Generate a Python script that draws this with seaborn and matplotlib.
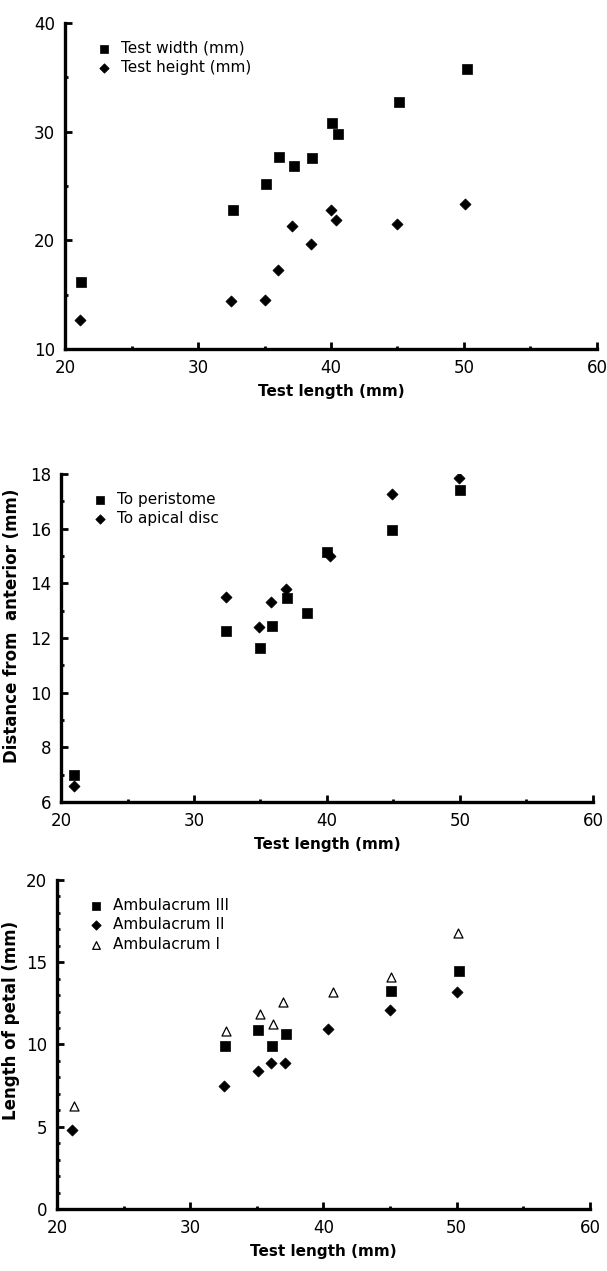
import matplotlib
matplotlib.use("Agg")
import matplotlib.pyplot as plt
from matplotlib.ticker import MultipleLocator
import seaborn as sns

# panel 1: test width / height vs test length
width_x = [21.2, 32.6, 35.15, 36.1, 37.2, 38.6, 40.1, 40.5, 45.1, 50.2]
width_y = [16.2, 22.8, 25.2, 27.7, 26.8, 27.6, 30.8, 29.8, 32.7, 35.8]
height_x = [21.1, 32.5, 35.0, 36.0, 37.1, 38.5, 40.0, 40.4, 45.0, 50.1]
height_y = [12.7, 14.4, 14.5, 17.3, 21.3, 19.7, 22.8, 21.9, 21.5, 23.3]

# panel 2: distance from anterior
peri_x = [21.0, 32.4, 35.0, 35.9, 37.0, 38.5, 40.0, 44.9, 50.0]
peri_y = [7.0, 12.25, 11.65, 12.45, 13.45, 12.9, 15.15, 15.95, 17.4]
apical_x = [21.0, 32.4, 34.9, 35.8, 36.9, 40.2, 44.9, 49.9]
apical_y = [6.6, 13.5, 12.4, 13.3, 13.8, 15.0, 17.25, 17.85]

# panel 3: petal lengths
amb3_x = [32.6, 35.1, 36.1, 37.2, 45.1, 50.15]
amb3_y = [9.9, 10.9, 9.9, 10.65, 13.25, 14.45]
amb2_x = [21.1, 32.5, 35.1, 36.05, 37.1, 40.35, 45.0, 50.0]
amb2_y = [4.8, 7.5, 8.4, 8.9, 8.9, 10.95, 12.1, 13.2]
amb1_x = [21.3, 32.7, 35.2, 36.2, 37.0, 40.7, 45.1, 50.1]
amb1_y = [6.25, 10.8, 11.85, 11.25, 12.55, 13.2, 14.1, 16.75]

sns.set_style("ticks")
plt.rcParams['font.family'] = ['DejaVu Sans']
plt.rcParams['text.color'] = 'black'
plt.rcParams['axes.labelcolor'] = 'black'

fig = plt.figure(figsize=(6.07, 12.71), dpi=100)

SQ = dict(marker='s', s=48, color='black', edgecolor='black', linewidth=0.5)
DI = dict(marker='D', s=32, color='black', edgecolor='black', linewidth=0.5)
TR = dict(marker='^', s=42, facecolor='white', edgecolor='black', linewidth=0.9)


def style_axes(ax, ylim, ymajor, yminor):
    ax.set_xlim(20, 60)
    ax.set_ylim(*ylim)
    ax.xaxis.set_major_locator(MultipleLocator(10))
    ax.xaxis.set_minor_locator(MultipleLocator(5))
    ax.yaxis.set_major_locator(MultipleLocator(ymajor))
    ax.yaxis.set_minor_locator(MultipleLocator(yminor))
    sns.despine(ax=ax)
    for sp in ['left', 'bottom']:
        ax.spines[sp].set_linewidth(2.4)
        ax.spines[sp].set_color('black')
    ax.tick_params(which='major', direction='in', length=5, width=2,
                   labelsize=12, colors='black')
    ax.tick_params(axis='x', which='major', pad=7)
    ax.tick_params(axis='y', which='major', pad=7)
    ax.tick_params(which='minor', direction='in', length=2.5, width=2, colors='black')
    ax.set_xlabel("Test length (mm)", fontsize=11, fontweight='bold', labelpad=5)
    ax.legend(loc='upper left', bbox_to_anchor=(0.05, 0.965), frameon=False,
              fontsize=11, handletextpad=0.7, labelspacing=0.3,
              borderaxespad=0.0, handlelength=0.8, markerscale=0.85)


ax1 = fig.add_axes([0.1071, 0.7254, 0.8764, 0.2565])
sns.scatterplot(x=width_x, y=width_y, ax=ax1, label="Test width (mm)", **SQ)
sns.scatterplot(x=height_x, y=height_y, ax=ax1, label="Test height (mm)", **DI)
style_axes(ax1, (10, 40), 10, 5)

ax2 = fig.add_axes([0.1005, 0.3690, 0.8764, 0.2581])
sns.scatterplot(x=peri_x, y=peri_y, ax=ax2, label="To peristome", **SQ)
sns.scatterplot(x=apical_x, y=apical_y, ax=ax2, label="To apical disc", **DI)
style_axes(ax2, (6, 18), 2, 1)
ax2.set_ylabel("Distance from  anterior (mm)", fontsize=12, fontweight='bold')
ax2.yaxis.set_label_coords(-0.075, 0.537)

ax3 = fig.add_axes([0.0939, 0.0488, 0.8780, 0.2589])
sns.scatterplot(x=amb3_x, y=amb3_y, ax=ax3, label="Ambulacrum III", **SQ)
sns.scatterplot(x=amb2_x, y=amb2_y, ax=ax3, label="Ambulacrum II", **DI)
sns.scatterplot(x=amb1_x, y=amb1_y, ax=ax3, label="Ambulacrum I", **TR)
style_axes(ax3, (0, 20), 5, 1)
ax3.set_ylabel("Length of petal (mm)", fontsize=12, fontweight='bold')
ax3.yaxis.set_label_coords(-0.07, 0.574)

fig.savefig("out.png", dpi=100)
